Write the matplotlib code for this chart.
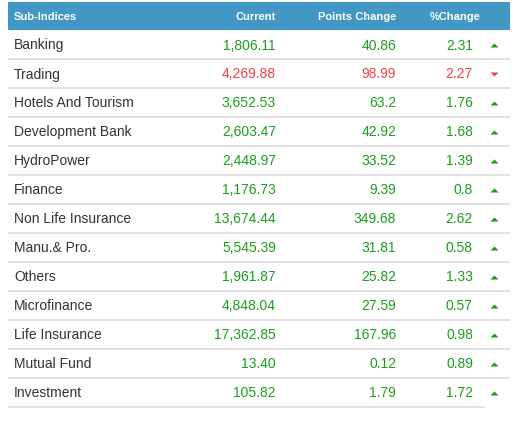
import matplotlib.pyplot as plt
from matplotlib.patches import Rectangle

plt.rcParams['font.family'] = ['Liberation Sans', 'DejaVu Sans']

sub_indices = ["Banking", "Trading", "Hotels And Tourism", "Development Bank",
               "HydroPower", "Finance", "Non Life Insurance", "Manu.& Pro.",
               "Others", "Microfinance", "Life Insurance", "Mutual Fund",
               "Investment"]
current = ["1,806.11", "4,269.88", "3,652.53", "2,603.47", "2,448.97",
           "1,176.73", "13,674.44", "5,545.39", "1,961.87", "4,848.04",
           "17,362.85", "13.40", "105.82"]
points_change = ["40.86", "98.99", "63.2", "42.92", "33.52", "9.39",
                 "349.68", "31.81", "25.82", "27.59", "167.96", "0.12", "1.79"]
pct_change = ["2.31", "2.27", "1.76", "1.68", "1.39", "0.8", "2.62",
              "0.58", "1.33", "0.57", "0.98", "0.89", "1.72"]
direction = ["up", "down", "up", "up", "up", "up", "up", "up", "up", "up",
             "up", "up", "up"]
headers = ["Sub-Indices", "Current", "Points Change", "%Change"]

W, H = 517, 431
fig = plt.figure(figsize=(W / 100, H / 100), dpi=100)
ax = fig.add_axes([0, 0, 1, 1])
ax.set_xlim(0, W)
ax.set_ylim(H, 0)
ax.axis('off')

green = '#1a9e1a'
red = '#f2404a'
text_gray = '#333333'
line_gray = '#dcdcdc'

# flat triangles (wide, short) like the web page arrows
up_tri = [(-1, -0.5), (1, -0.5), (0, 0.5)]
down_tri = [(-1, 0.5), (1, 0.5), (0, -0.5)]

# header bar
left, right = 8, 510
head_top, head_bot = 3, 31
row_h = 29
ax.add_patch(Rectangle((left, head_top), right - left, head_bot - head_top,
                       color='#4397c4', lw=0))
head_y = (head_top + head_bot) / 2
head_x = [14, 276, 396, 480]
head_ha = ['left', 'right', 'right', 'right']
for h, x, ha in zip(headers, head_x, head_ha):
    ax.text(x, head_y, h, color='white', fontsize=8, fontweight='bold',
            ha=ha, va='center')

fs = 10
for i, name in enumerate(sub_indices):
    top = head_bot + i * row_h
    yc = top + row_h / 2
    col = green if direction[i] == "up" else red
    ax.text(14, yc, name, color=text_gray, fontsize=fs, ha='left', va='center')
    ax.text(276, yc, current[i], color=col, fontsize=fs, ha='right', va='center')
    ax.text(396, yc, points_change[i], color=col, fontsize=fs, ha='right', va='center')
    ax.text(473, yc, pct_change[i], color=col, fontsize=fs, ha='right', va='center')
    mk = up_tri if direction[i] == "up" else down_tri
    ax.scatter([494], [yc + 0.5], marker=mk, s=34, color=col, linewidths=0)
    line_end = right if i < len(sub_indices) - 1 else 485
    ax.hlines(top + row_h, left, line_end, color=line_gray, lw=1.2)

fig.savefig('out.png', dpi=100)
